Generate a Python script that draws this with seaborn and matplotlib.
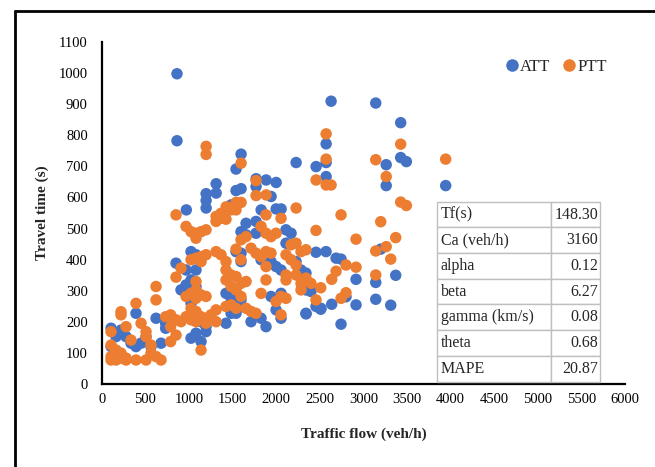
import matplotlib
matplotlib.use("Agg")
import matplotlib.pyplot as plt
from matplotlib.lines import Line2D
import seaborn as sns
import pandas as pd

# Traffic flow (veh/h) and average travel time (s)
att_flow = [863, 863, 2630, 1598, 1540, 1312, 1312, 1197, 1197, 1197, 1540, 1598, 1770, 1770,
            1885, 1942, 2000, 2229, 2458, 2573, 2573, 2573, 970, 1828, 2000, 2057, 3142, 3428,
            3428, 3493, 3262, 3262, 3944, 3199, 2687, 2744, 2916, 3142, 3371, 2801, 2637, 2916,
            3142, 3314, 2744, 2511, 2343, 2457, 2572, 1483, 1655, 1769, 1597, 1655, 1769, 2113,
            2171, 2113, 1024, 1081, 852, 967, 1081, 1540, 1597, 1597, 1827, 1941, 1999, 2056,
            2228, 2285, 2342, 2342, 2399, 2457, 2514, 2342, 1425, 1483, 1597, 1597, 1540, 1483,
            1425, 1712, 1827, 1884, 2056, 1999, 1941, 1999, 2056, 909, 967, 1024, 1081, 1024,
            1139, 1196, 1196, 1024, 1139, 1081, 393, 623, 733, 733, 680, 107, 164, 221, 107,
            279, 336, 393, 451, 508, 565]
att_time = [997, 782, 909, 739, 691, 644, 614, 612, 590, 566, 622, 628, 635, 660,
            656, 603, 648, 712, 699, 712, 667, 772, 560, 560, 563, 563, 903, 840,
            728, 715, 705, 638, 638, 434, 405, 402, 337, 327, 350, 281, 257, 255,
            273, 254, 193, 241, 226, 424, 426, 576, 517, 523, 490, 480, 485, 496,
            485, 453, 426, 416, 389, 367, 367, 426, 421, 394, 400, 394, 378, 367,
            394, 367, 357, 303, 298, 250, 244, 228, 292, 276, 271, 250, 228, 228,
            196, 201, 212, 185, 212, 239, 282, 271, 292, 303, 319, 335, 314, 260,
            201, 185, 169, 148, 137, 164, 228, 212, 196, 180, 132, 121, 153, 174, 180,
            153, 132, 121, 132, 153, 121]

# Traffic flow (veh/h) and planning travel time (s)
ptt_flow = [1598, 1197, 1197, 1770, 1770, 1885, 2458, 2573, 2573, 2573, 2630, 1427, 1540, 1598,
            2229, 3428, 3142, 3262, 3944, 3428, 3493, 2744, 3199, 2916, 3371, 3142, 3262, 3314,
            2801, 2916, 2687, 2637, 3142, 2801, 2744, 2511, 1540, 1483, 1368, 852, 1884, 2056,
            1311, 1311, 1368, 1425, 967, 1024, 1081, 1081, 1139, 1196, 1827, 1884, 1941, 1999,
            1597, 1655, 2171, 2228, 2285, 2342, 2457, 1024, 1081, 1139, 1196, 1139, 909, 852,
            1311, 1368, 1425, 1540, 1597, 1712, 1769, 1827, 1884, 1941, 1884, 2113, 2171, 2228,
            2113, 2113, 2228, 2285, 2285, 2342, 2399, 2457, 1425, 1425, 1483, 1540, 1483, 1540,
            1597, 1655, 1597, 1425, 1483, 1540, 1655, 1712, 1769, 1827, 1884, 1999, 2056, 2056,
            2113, 1081, 1081, 1024, 967, 1081, 1139, 1196, 1024, 1081, 967, 1024, 1081, 1139,
            1196, 1196, 1253, 1311, 1139, 1311, 623, 623, 393, 221, 221, 733, 790, 852, 909,
            790, 852, 790, 680, 508, 393, 279, 164, 107, 107, 107, 164, 221, 279, 336, 451,
            508, 508, 565, 565, 623, 107, 164, 221, 279]
ptt_time = [710, 764, 738, 654, 606, 608, 656, 804, 723, 640, 640, 570, 584, 584,
            566, 771, 721, 667, 723, 585, 574, 544, 522, 466, 471, 428, 442, 402,
            383, 376, 363, 337, 351, 294, 276, 310, 560, 560, 549, 544, 544, 533,
            539, 523, 533, 530, 507, 490, 485, 469, 490, 496, 507, 485, 474, 485,
            464, 474, 448, 453, 426, 432, 494, 400, 405, 410, 416, 394, 373, 344,
            426, 416, 394, 434, 400, 437, 421, 410, 426, 421, 378, 416, 400, 383,
            351, 335, 351, 324, 303, 341, 324, 271, 367, 335, 351, 346, 314, 303,
            324, 330, 282, 250, 255, 244, 244, 234, 228, 292, 335, 266, 282, 223,
            276, 330, 303, 292, 282, 276, 287, 282, 244, 234, 217, 207, 201, 217,
            212, 196, 223, 201, 110, 239, 314, 271, 260, 233, 223, 217, 223, 207, 201,
            185, 158, 137, 78, 78, 78, 78, 78, 78, 169, 126, 110, 100, 185, 142, 196,
            169, 153, 126, 100, 89, 89, 89, 84, 84]

series_names = ["ATT", "PTT"]
series_colors = ["#4472C4", "#ED7D31"]

x_ticks = list(range(0, 6001, 500))
y_ticks = list(range(0, 1101, 100))

table_rows = [["Tf(s)", "148.30"],
              ["Ca (veh/h)", "3160"],
              ["alpha", "0.12"],
              ["beta", "6.27"],
              ["gamma (km/s)", "0.08"],
              ["theta", "0.68"],
              ["MAPE", "20.87"]]

df = pd.concat([
    pd.DataFrame({"flow": att_flow, "time": att_time, "series": series_names[0]}),
    pd.DataFrame({"flow": ptt_flow, "time": ptt_time, "series": series_names[1]}),
], ignore_index=True)

sns.set_theme(style="white")
plt.rcParams["font.family"] = ["Liberation Serif", "DejaVu Serif"]

fig = plt.figure(figsize=(6.55, 4.67), dpi=100)
ax = fig.add_axes([0.1553, 0.1771, 0.7989, 0.7336])

sns.scatterplot(data=df, x="flow", y="time", hue="series",
                palette=dict(zip(series_names, series_colors)),
                s=68, linewidth=0, alpha=1.0, ax=ax, legend=False)

ax.set_xlim(0, 6000)
ax.set_ylim(0, 1100)
ax.set_xticks(x_ticks)
ax.set_yticks(y_ticks)
ax.tick_params(axis="both", length=0, labelsize=10.5, colors="black")
ax.tick_params(axis="y", pad=10)
ax.tick_params(axis="x", pad=6)
for side in ["top", "right"]:
    ax.spines[side].set_visible(False)
for side in ["left", "bottom"]:
    ax.spines[side].set_color("black")
    ax.spines[side].set_linewidth(1.6)

ax.set_xlabel("Traffic flow (veh/h)", fontsize=11, fontweight="bold", labelpad=16)
ax.set_ylabel("Travel time (s)", fontsize=11, fontweight="bold", labelpad=7)

handles = [Line2D([], [], marker="o", linestyle="", markersize=8,
                  markerfacecolor=c, markeredgecolor=c) for c in series_colors]
ax.legend(handles, series_names, loc="center left", bbox_to_anchor=(0.755, 0.926),
          ncol=2, frameon=False, fontsize=12, handletextpad=0.0,
          columnspacing=0.6, handlelength=1.0, borderaxespad=0)

tbl = ax.table(cellText=table_rows, cellLoc="left", colWidths=[0.697, 0.303],
               bbox=[0.641, 0.008, 0.311, 0.525])
tbl.auto_set_font_size(False)
for (r, c), cell in tbl.get_celld().items():
    cell.set_edgecolor("#bfbfbf")
    cell.set_linewidth(1.0)
    cell.set_facecolor("white")
    cell.get_text().set_fontsize(11.5)
    if c == 1:
        cell.get_text().set_horizontalalignment("right")
        cell._loc = "right"
    cell.PAD = 0.03
tbl.set_zorder(5)

# frame lines around the chart area
fig.add_artist(Line2D([15 / 655, 15 / 655], [0, 1 - 11 / 467], color="black", lw=2.0,
                      transform=fig.transFigure))
fig.add_artist(Line2D([15 / 655, 1.0], [1 - 11 / 467, 1 - 11 / 467], color="black", lw=2.0,
                      transform=fig.transFigure))

fig.savefig("out.png", dpi=100)
